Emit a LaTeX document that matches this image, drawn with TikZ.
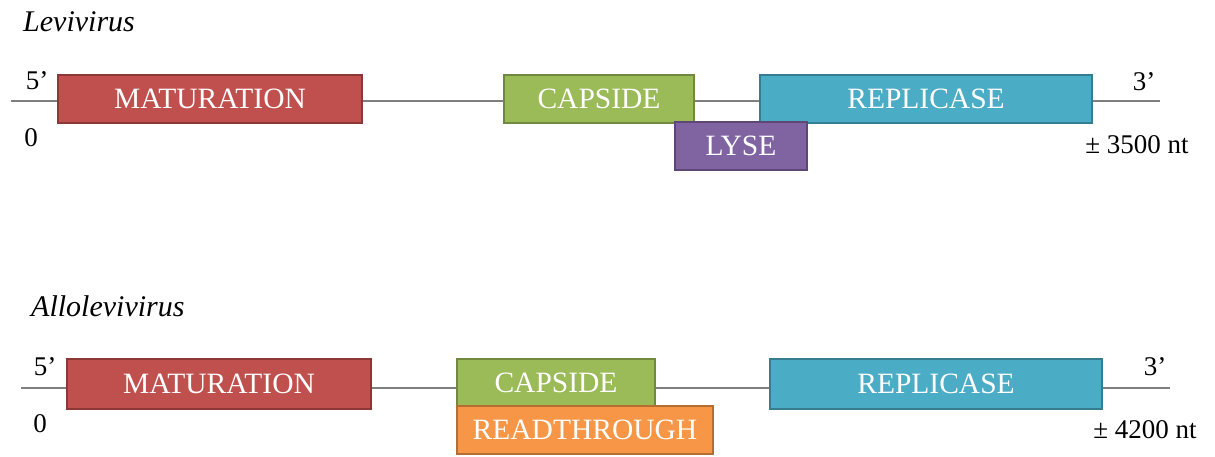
\documentclass[tikz,border=0pt]{standalone}
\usepackage{fontspec}
\setmainfont{Liberation Serif}
\definecolor{matF}{HTML}{C0504D}\definecolor{matD}{HTML}{8C3836}
\definecolor{capF}{HTML}{9BBB59}\definecolor{capD}{HTML}{71893F}
\definecolor{repF}{HTML}{4BACC6}\definecolor{repD}{HTML}{357D91}
\definecolor{lysF}{HTML}{8064A2}\definecolor{lysD}{HTML}{5C4776}
\definecolor{rdtF}{HTML}{F79646}\definecolor{rdtD}{HTML}{B66D31}
\definecolor{lineC}{HTML}{7F7F7F}
\tikzset{
  gene/.style={rectangle, line width=2.2pt, inner sep=0pt, text=white,
    font=\fontsize{29.5}{31}\selectfont, text depth=0pt},
  matbox/.style={gene, fill=matF, draw=matD},
  capbox/.style={gene, fill=capF, draw=capD},
  repbox/.style={gene, fill=repF, draw=repD},
  lysbox/.style={gene, fill=lysF, draw=lysD},
  rdtbox/.style={gene, fill=rdtF, draw=rdtD},
  rna/.style={draw=lineC, line width=2pt},
  lbl/.style={anchor=base, inner sep=0pt, font=\fontsize{27}{29}\selectfont},
  ttl/.style={anchor=base west, inner sep=0pt, font=\fontsize{30}{32}\selectfont\itshape},
}
\begin{document}
\begin{tikzpicture}[x=1pt,y=-1pt]
\useasboundingbox (0,0) rectangle (1215,457);
% ---- Levivirus ----
\node[ttl] (t1) at (23,32) {Levivirus};
\coordinate (s1) at (11,101);
\coordinate (e1) at (1160,101);
\draw[rna] (s1) -- (e1);
\node[matbox, minimum width=304pt, minimum height=48pt] (mat1) at (210,99) {MATURATION};
\node[capbox, minimum width=190pt, minimum height=48pt] (cap1) at (599,99) {CAPSIDE};
\node[repbox, minimum width=332pt, minimum height=48pt] (rep1) at (926,99) {REPLICASE};
\node[lysbox, minimum width=132pt, minimum height=48pt] (lys1) at (741,146) {LYSE};
\node[lbl] (p51) at (37,90) {5’};
\node[lbl] (z1) at (31,147) {0};
\node[lbl] (p31) at (1144,91) {3’};
\node[lbl] (n1) at (1137,154) {± 3500 nt};
% ---- Allolevivirus ----
\node[ttl] (t2) at (31,316) {Allolevivirus};
\coordinate (s2) at (21,388);
\coordinate (e2) at (1170,388);
\draw[rna] (s2) -- (e2);
\node[matbox, minimum width=304pt, minimum height=50pt] (mat2) at (219,384) {MATURATION};
\node[capbox, minimum width=198pt, minimum height=47pt] (cap2) at (556,382.5) {CAPSIDE};
\node[rdtbox, minimum width=256pt, minimum height=48pt] (rdt2) at (585,430) {READTHROUGH};
\node[repbox, minimum width=332pt, minimum height=50pt] (rep2) at (936,384) {REPLICASE};
\node[lbl] (p52) at (45,375) {5’};
\node[lbl] (z2) at (40,432) {0};
\node[lbl] (p32) at (1155,375) {3’};
\node[lbl] (n2) at (1145,438) {± 4200 nt};
\end{tikzpicture}
\end{document}
